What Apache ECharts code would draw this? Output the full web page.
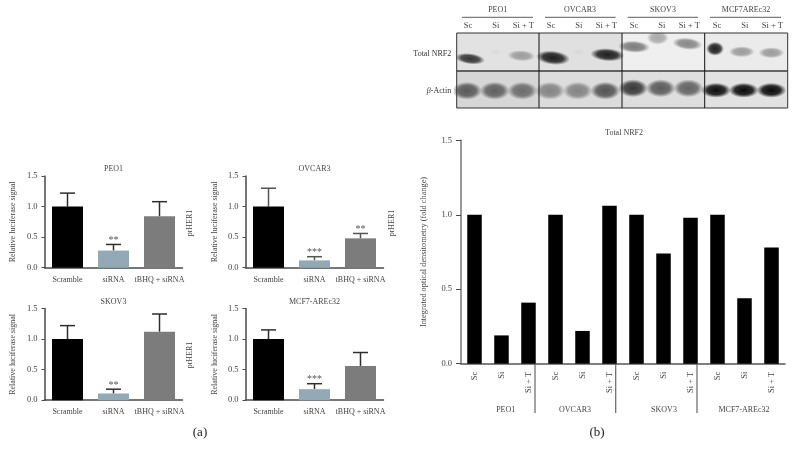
<!DOCTYPE html>
<html>
<head>
<meta charset="utf-8">
<style>
  html, body { margin: 0; padding: 0; background: #fff; }
  #main { width: 796px; height: 460px; }
</style>
<script src="https://cdn.jsdelivr.net/npm/echarts@6/dist/echarts.min.js"></script>
</head>
<body>
<div id="main"></div>
<script>
// panel (a)
const conditions = ['Scramble', 'siRNA', 'tBHQ + siRNA']
const panelNames = ['PEO1', 'OVCAR3', 'SKOV3', 'MCF7-AREc32']
const peo1Values = [1.0, 0.28, 0.84]
const peo1ErrTop = [1.22, 0.38, 1.08]
const peo1Stars = ['', '**', '']
const ovcar3Values = [1.0, 0.12, 0.48]
const ovcar3ErrTop = [1.3, 0.18, 0.56]
const ovcar3Stars = ['', '***', '**']
const skov3Values = [1.0, 0.11, 1.12]
const skov3ErrTop = [1.22, 0.18, 1.41]
const skov3Stars = ['', '**', '']
const mcf7Values = [1.0, 0.18, 0.56]
const mcf7ErrTop = [1.15, 0.27, 0.78]
const mcf7Stars = ['', '***', '']
const yTicks = [0, 0.5, 1, 1.5]

// panel (b)
const lanes = ['Sc', 'Si', 'Si + T', 'Sc', 'Si', 'Si + T', 'Sc', 'Si', 'Si + T', 'Sc', 'Si', 'Si + T']
const nrf2Values = [1.0, 0.19, 0.41, 1.0, 0.22, 1.06, 1.0, 0.74, 0.98, 1.0, 0.44, 0.78]
const groupNames = ['PEO1', 'OVCAR3', 'SKOV3', 'MCF7-AREc32']
const blotGroupNames = ['PEO1', 'OVCAR3', 'SKOV3', 'MCF7AREc32']

// blot band darkness, 0..1
const blotRows = ['Total NRF2', 'β-Actin']
const nrf2Bands = [0.8, 0.03, 0.32, 0.9, 0.03, 0.9, 0.5, 0.3, 0.45, 0.9, 0.35, 0.35]
const actinBands = [0.62, 0.58, 0.52, 0.42, 0.42, 0.65, 0.78, 0.62, 0.58, 0.98, 1, 1]

const FONT = '"Liberation Serif", serif'
const TEXT = '#444'
const AXIS = '#4a4a4a'
const BAR_COLORS = ['#000000', '#93a9b6', '#7c7c7c']

const panels = [
  { values: peo1Values, err: peo1ErrTop, stars: peo1Stars, left: 44.5, top: 176, nameGap: 28, sideX: 190, sideY: 223 },
  { values: ovcar3Values, err: ovcar3ErrTop, stars: ovcar3Stars, left: 245.5, top: 176, nameGap: 27, sideX: 392, sideY: 223 },
  { values: skov3Values, err: skov3ErrTop, stars: skov3Stars, left: 44.5, top: 308.5, nameGap: 28, sideX: 190, sideY: 355 },
  { values: mcf7Values, err: mcf7ErrTop, stars: mcf7Stars, left: 245.5, top: 308.5, nameGap: 27 }
]

const grid = [],
  xAxis = [],
  yAxis = [],
  series = [],
  title = [],
  graphic = []

// 小图标题
const addTitle = (text, x, y) => {
  title.push({
    text,
    left: x,
    top: y,
    padding: 0,
    textAlign: 'center',
    textVerticalAlign: 'middle',
    textStyle: { fontFamily: FONT, fontSize: 8, fontWeight: 'normal', color: TEXT }
  })
}

// 图形文字
const addText = (text, x, y, opt = {}) => {
  graphic.push({
    type: 'text',
    x,
    y,
    rotation: opt.rotation || 0,
    z: 20,
    style: {
      text,
      fontFamily: FONT,
      fontSize: opt.fontSize || 8,
      fill: opt.fill || TEXT,
      align: opt.align || 'center',
      verticalAlign: 'middle'
    }
  })
}

const addLine = (x1, y1, x2, y2, color, width) => {
  graphic.push({
    type: 'line',
    z: 20,
    shape: { x1, y1, x2, y2 },
    style: { stroke: color, lineWidth: width }
  })
}

// 误差线
const errorRender = (colors, stars) => (params, api) => {
  const i = params.dataIndex
  const base = api.coord([i, api.value(1)])
  const top = api.coord([i, api.value(2)])
  const children = [
    { type: 'line', shape: { x1: top[0], y1: base[1], x2: top[0], y2: top[1] }, style: { stroke: colors, lineWidth: 1.5 } },
    { type: 'line', shape: { x1: top[0] - 7.5, y1: top[1], x2: top[0] + 7.5, y2: top[1] }, style: { stroke: colors, lineWidth: 1.5 } }
  ]
  if (stars[i]) {
    children.push({
      type: 'text',
      x: top[0],
      y: top[1] - 4,
      style: { text: stars[i], fontFamily: FONT, fontSize: 10, fill: '#555', align: 'center', verticalAlign: 'middle' }
    })
  }
  return { type: 'group', children }
}

panels.forEach((p, i) => {
  grid.push({ left: p.left, top: p.top, width: 138, height: 91.7 })
  xAxis.push({
    gridIndex: i,
    type: 'category',
    data: conditions,
    axisTick: { alignWithLabel: true, length: 3, lineStyle: { color: AXIS, width: 1 } },
    axisLine: { lineStyle: { color: AXIS, width: 1.5 } },
    axisLabel: { interval: 0, fontFamily: FONT, fontSize: 8, color: TEXT, margin: 8 }
  })
  yAxis.push({
    gridIndex: i,
    type: 'value',
    min: yTicks[0],
    max: yTicks[yTicks.length - 1],
    interval: 0.5,
    splitLine: { show: false },
    axisLine: { show: true, lineStyle: { color: AXIS, width: 1.5 } },
    axisTick: { show: true, length: 3, lineStyle: { color: AXIS, width: 1 } },
    axisLabel: { fontFamily: FONT, fontSize: 8.5, color: TEXT, margin: 7, formatter: v => v.toFixed(1) },
    name: 'Relative luciferase signal',
    nameLocation: 'middle',
    nameGap: p.nameGap,
    nameTextStyle: { fontFamily: FONT, fontSize: 8, color: TEXT }
  })
  series.push({
    type: 'bar',
    xAxisIndex: i,
    yAxisIndex: i,
    barWidth: 31,
    data: p.values.map((v, j) => ({ value: v, itemStyle: { color: BAR_COLORS[j] } }))
  })
  series.push({
    type: 'custom',
    xAxisIndex: i,
    yAxisIndex: i,
    clip: false,
    z: 1,
    renderItem: errorRender(i === 1 ? '#555' : '#2e2e2e', p.stars),
    data: p.values.map((v, j) => [j, v, p.err[j]])
  })
  addTitle(panelNames[i], p.left + 69, p.top - 7)
  if (p.sideX) addText('prHER1', p.sideX, p.sideY, { rotation: Math.PI / 2 })
})

// (b) 柱状图
grid.push({ left: 461, top: 140.3, width: 324, height: 223.4 })
xAxis.push({
  gridIndex: 4,
  type: 'category',
  data: lanes,
  axisTick: { alignWithLabel: true, length: 3, lineStyle: { color: AXIS, width: 1 } },
  axisLine: { lineStyle: { color: '#555', width: 1.5 } },
  axisLabel: { interval: 0, rotate: 90, fontFamily: FONT, fontSize: 8.5, color: TEXT, margin: 8 }
})
yAxis.push({
  gridIndex: 4,
  type: 'value',
  min: 0,
  max: 1.5,
  interval: 0.5,
  splitLine: { show: false },
  axisLine: { show: true, lineStyle: { color: '#777', width: 1.5 } },
  axisTick: { show: true, length: 5, lineStyle: { color: AXIS, width: 1 } },
  axisLabel: { fontFamily: FONT, fontSize: 8.5, color: TEXT, margin: 9, formatter: v => v.toFixed(1) },
  name: 'Integrated optical densitometry (fold change)',
  nameLocation: 'middle',
  nameGap: 33,
  nameTextStyle: { fontFamily: FONT, fontSize: 8.3, color: TEXT }
})
series.push({ type: 'bar', xAxisIndex: 4, yAxisIndex: 4, barWidth: 14.5, itemStyle: { color: '#000' }, data: nrf2Values })
addTitle('Total NRF2', 624, 133)

const groupLabelX = [505.7, 575, 664, 744]
groupNames.forEach((g, i) => addText(g, groupLabelX[i], 410))
;[535, 615.7, 697].forEach(x => addLine(x, 364, x, 413, '#666', 1.2))
addText('(a)', 200, 433, { fontSize: 13, fill: '#222' })
addText('(b)', 597, 433, { fontSize: 13, fill: '#222' })

// 印迹图
grid.push({ left: 454.2, top: 33, width: 332, height: 75 })
xAxis.push({
  gridIndex: 5,
  type: 'category',
  position: 'top',
  data: lanes,
  axisLine: { show: false },
  axisTick: { show: false },
  axisLabel: { interval: 0, fontFamily: FONT, fontSize: 8.5, color: TEXT, margin: 3 }
})
yAxis.push({
  gridIndex: 5,
  type: 'category',
  inverse: true,
  data: blotRows,
  axisLine: { show: false },
  axisTick: { show: false },
  axisLabel: {
    fontFamily: FONT,
    fontSize: 8,
    color: '#333',
    margin: 3,
    padding: [4, 0, 0, 0],
    formatter: v => (v === 'β-Actin' ? '{b|β}-Actin' : v),
    rich: { b: { fontStyle: 'italic', fontFamily: FONT, fontSize: 8, color: '#333' } }
  }
})

// 条带形状: [dx, dy, rx, ry, deg]
const nrf2Shape = [
  [2, 7, 15, 5.5, -7], [0, 0, 6, 3, 0], [-2, 4, 14, 5.5, -3],
  [2, 6, 17, 7, -6], [0, 0, 6, 3, 0], [1, 3, 17, 6.5, -4],
  [0, -5, 16, 6, -3], [-4, -14, 11, 7, 0], [-2, -8, 15, 6, -6],
  [-2, -3, 9, 7, 0], [-3, 0, 13, 5.5, 0], [-1, 1, 13, 5.5, 0]
]
const actinShape = lanes.map((_, i) => (i > 8 ? [-1, 1, 15, 7.5, 0] : [-1, i > 5 ? -1 : 1.5, 15, 9, 0]))

const bandRender = (params, api) => {
  const row = api.value(1)
  const d = api.value(2)
  const s = (row === 0 ? nrf2Shape : actinShape)[api.value(0)]
  const c = api.coord([api.value(0), row])
  const R = 10
  return {
    type: 'circle',
    x: c[0] + s[0],
    y: c[1] + s[1],
    scaleX: s[2] / R,
    scaleY: s[3] / R,
    rotation: (s[4] * Math.PI) / 180,
    shape: { cx: 0, cy: 0, r: R },
    style: {
      fill: new echarts.graphic.RadialGradient(0.5, 0.5, 0.5, [
        { offset: 0, color: `rgba(10,10,10,${d})` },
        { offset: 0.6, color: `rgba(10,10,10,${d * 0.85})` },
        { offset: 1, color: 'rgba(10,10,10,0)' }
      ])
    }
  }
}
series.push({
  type: 'custom',
  xAxisIndex: 5,
  yAxisIndex: 5,
  coordinateSystem: 'cartesian2d',
  clip: true,
  renderItem: bandRender,
  data: [...nrf2Bands.map((d, i) => [i, 0, d]), ...actinBands.map((d, i) => [i, 1, d])]
})

// 印迹图底色与边框
const blotFills = [
  ['#e2e2e2', 456.7, 33, 82.3, 38], ['#e0e0e0', 539, 33, 83, 38], ['#efefef', 622, 33, 82.7, 38], ['#ebebeb', 704.7, 33, 83, 38],
  ['#d6d6d6', 456.7, 71, 82.3, 37], ['#dcdcdc', 539, 71, 83, 37], ['#dedede', 622, 71, 82.7, 37], ['#e2e2e2', 704.7, 71, 83, 37]
]
blotFills.forEach(f => {
  graphic.push({ type: 'rect', z: -1, shape: { x: f[1], y: f[2], width: f[3], height: f[4] }, style: { fill: f[0] } })
})
graphic.push({ type: 'rect', z: 20, shape: { x: 456.7, y: 33, width: 331, height: 75 }, style: { fill: 'none', stroke: '#333', lineWidth: 1 } })
addLine(456.7, 71, 787.7, 71, '#3a3a3a', 1.3)
;[539, 622, 704.7].forEach(x => addLine(x, 33, x, 108, '#111', 1))

// 印迹图表头
const headX = [497.7, 580, 663, 746]
const headLine = [[462, 533], [545, 615.7], [627.7, 698], [710, 781]]
blotGroupNames.forEach((g, i) => {
  addText(g, headX[i], 10)
  addLine(headLine[i][0], 17.3, headLine[i][1], 17.3, '#333', 0.8)
})

const myChart = echarts.init(document.getElementById('main'), null, { renderer: 'canvas' })
myChart.setOption({
  animation: false,
  backgroundColor: '#fff',
  title,
  grid,
  xAxis,
  yAxis,
  series,
  graphic: { elements: graphic }
})
</script>
</body>
</html>
